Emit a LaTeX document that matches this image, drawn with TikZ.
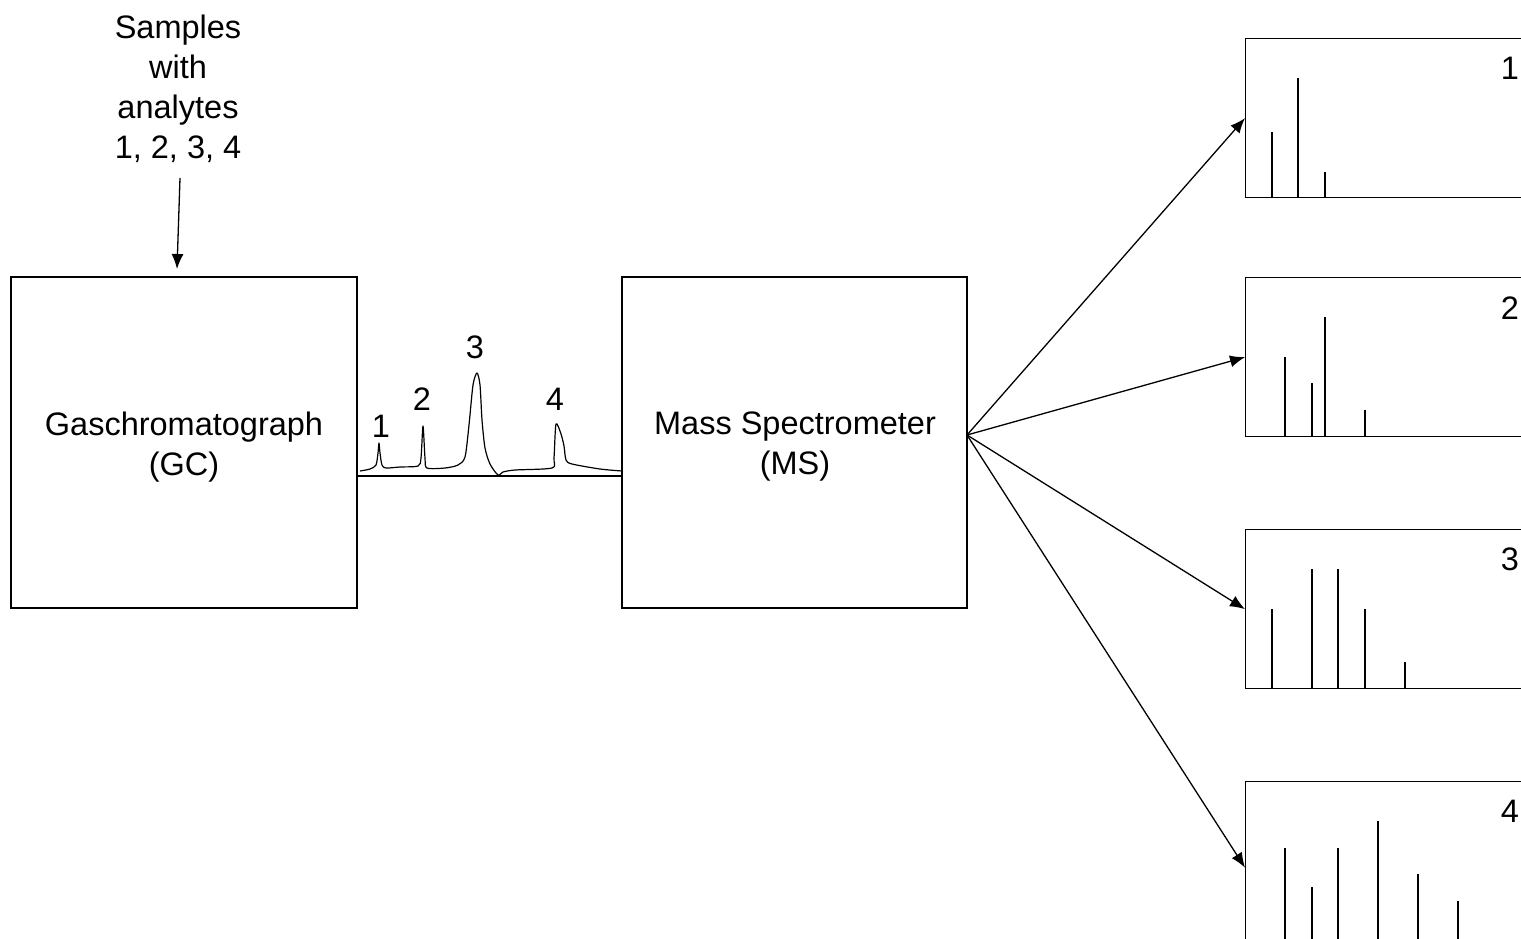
\documentclass[tikz,border=0pt]{standalone}
\usepackage{fontspec}
\setmainfont{Liberation Sans}
\usetikzlibrary{arrows.meta,calc}
\begin{document}
\begin{tikzpicture}[x=1pt,y=-1pt,
  every node/.style={font=\fontsize{32.5}{40}\selectfont, inner sep=0pt},
  box/.style={draw, line width=1.3pt, minimum width=#1, minimum height=331pt, align=center},
  spec/.style={draw, line width=1.3pt, minimum width=320pt, minimum height=#1, anchor=north west},
  arr/.style={line width=1.3pt, -{Latex[length=15pt,width=12pt]}},
  peakline/.style={line width=1.3pt},
  lbl/.style={font=\fontsize{32.5}{38}\selectfont}]
\clip (0,0) rectangle (1521,938);
\fill[white] (0,0) rectangle (1521,938);
% samples
\node[align=center] (samples) at (178,89) {Samples\\with\\analytes\\1, 2, 3, 4};
\coordinate (sin) at (180,178);
\coordinate (sout) at (177,269);
\draw[arr] (sin) -- (sout);
% GC and MS
\node[box=346pt] (GC) at (184,442.5) {};
\node[box=345pt] (MS) at (794.5,442.5) {};
\node[align=center] (GCt) at (184,447) {Gaschromatograph\\(GC)};
\node[align=center] (MSt) at (795,447) {Mass Spectrometer\\(MS)};
% baseline
\coordinate (bl) at (357,476);
\draw[line width=1.3pt] (bl) -- (bl -| MS.west);
% chromatogram
\draw[line width=1.2pt, line join=round] plot[smooth, tension=0.45] coordinates {
 (360,471) (370,469) (376,465) (378,453) (379,443) (380,453) (382,465) (386,468)
 (400,467) (418,466) (421,458) (423,426) (425,458) (427,468) (445,468)
 (458,465) (465,457) (469,425) (473,385) (477,373) (480,385) (482,420) (485,448)
 (490,464) (498,475) (503,472) (515,470) (552,468) (554,458) (556,424) (561,434)
 (564,446) (566,460) (572,464) (600,469) (622,471)};
\node[lbl] (p1) at (381,426) {1};
\node[lbl] (p2) at (422,399) {2};
\node[lbl] (p3) at (475,347) {3};
\node[lbl] (p4) at (555,399) {4};
% spectra boxes
\node[spec=159pt] (s1) at (1245,38) {};
\node[spec=159pt] (s2) at (1245,277) {};
\node[spec=159pt] (s3) at (1245,529) {};
\node[spec=172pt] (s4) at (1245,781) {};
\node[lbl] (n1) at (1510,68) {1};
\node[lbl] (n2) at (1510,308) {2};
\node[lbl] (n3) at (1510,559) {3};
\node[lbl] (n4) at (1510,811) {4};
% fan arrows
\coordinate (msout) at (967,435);
\draw[arr] (msout) -- (s1.west);
\draw[arr] (msout) -- (s2.west);
\draw[arr] (msout) -- (s3.west);
\draw[arr] (msout) -- (s4.west);
% spectrum lines
\foreach \x/\t in {1272/132, 1298/78, 1325/172}
  \draw[peakline] (\x,197) -- (\x,\t);
\foreach \x/\t in {1285/357, 1312/383, 1325/317, 1365/410}
  \draw[peakline] (\x,436) -- (\x,\t);
\foreach \x/\t in {1272/609, 1312/569, 1338/569, 1365/609, 1405/662}
  \draw[peakline] (\x,688) -- (\x,\t);
\foreach \x/\t in {1285/848, 1312/887, 1338/848, 1378/821, 1418/874, 1458/901}
  \draw[peakline] (\x,945) -- (\x,\t);
\end{tikzpicture}
\end{document}
